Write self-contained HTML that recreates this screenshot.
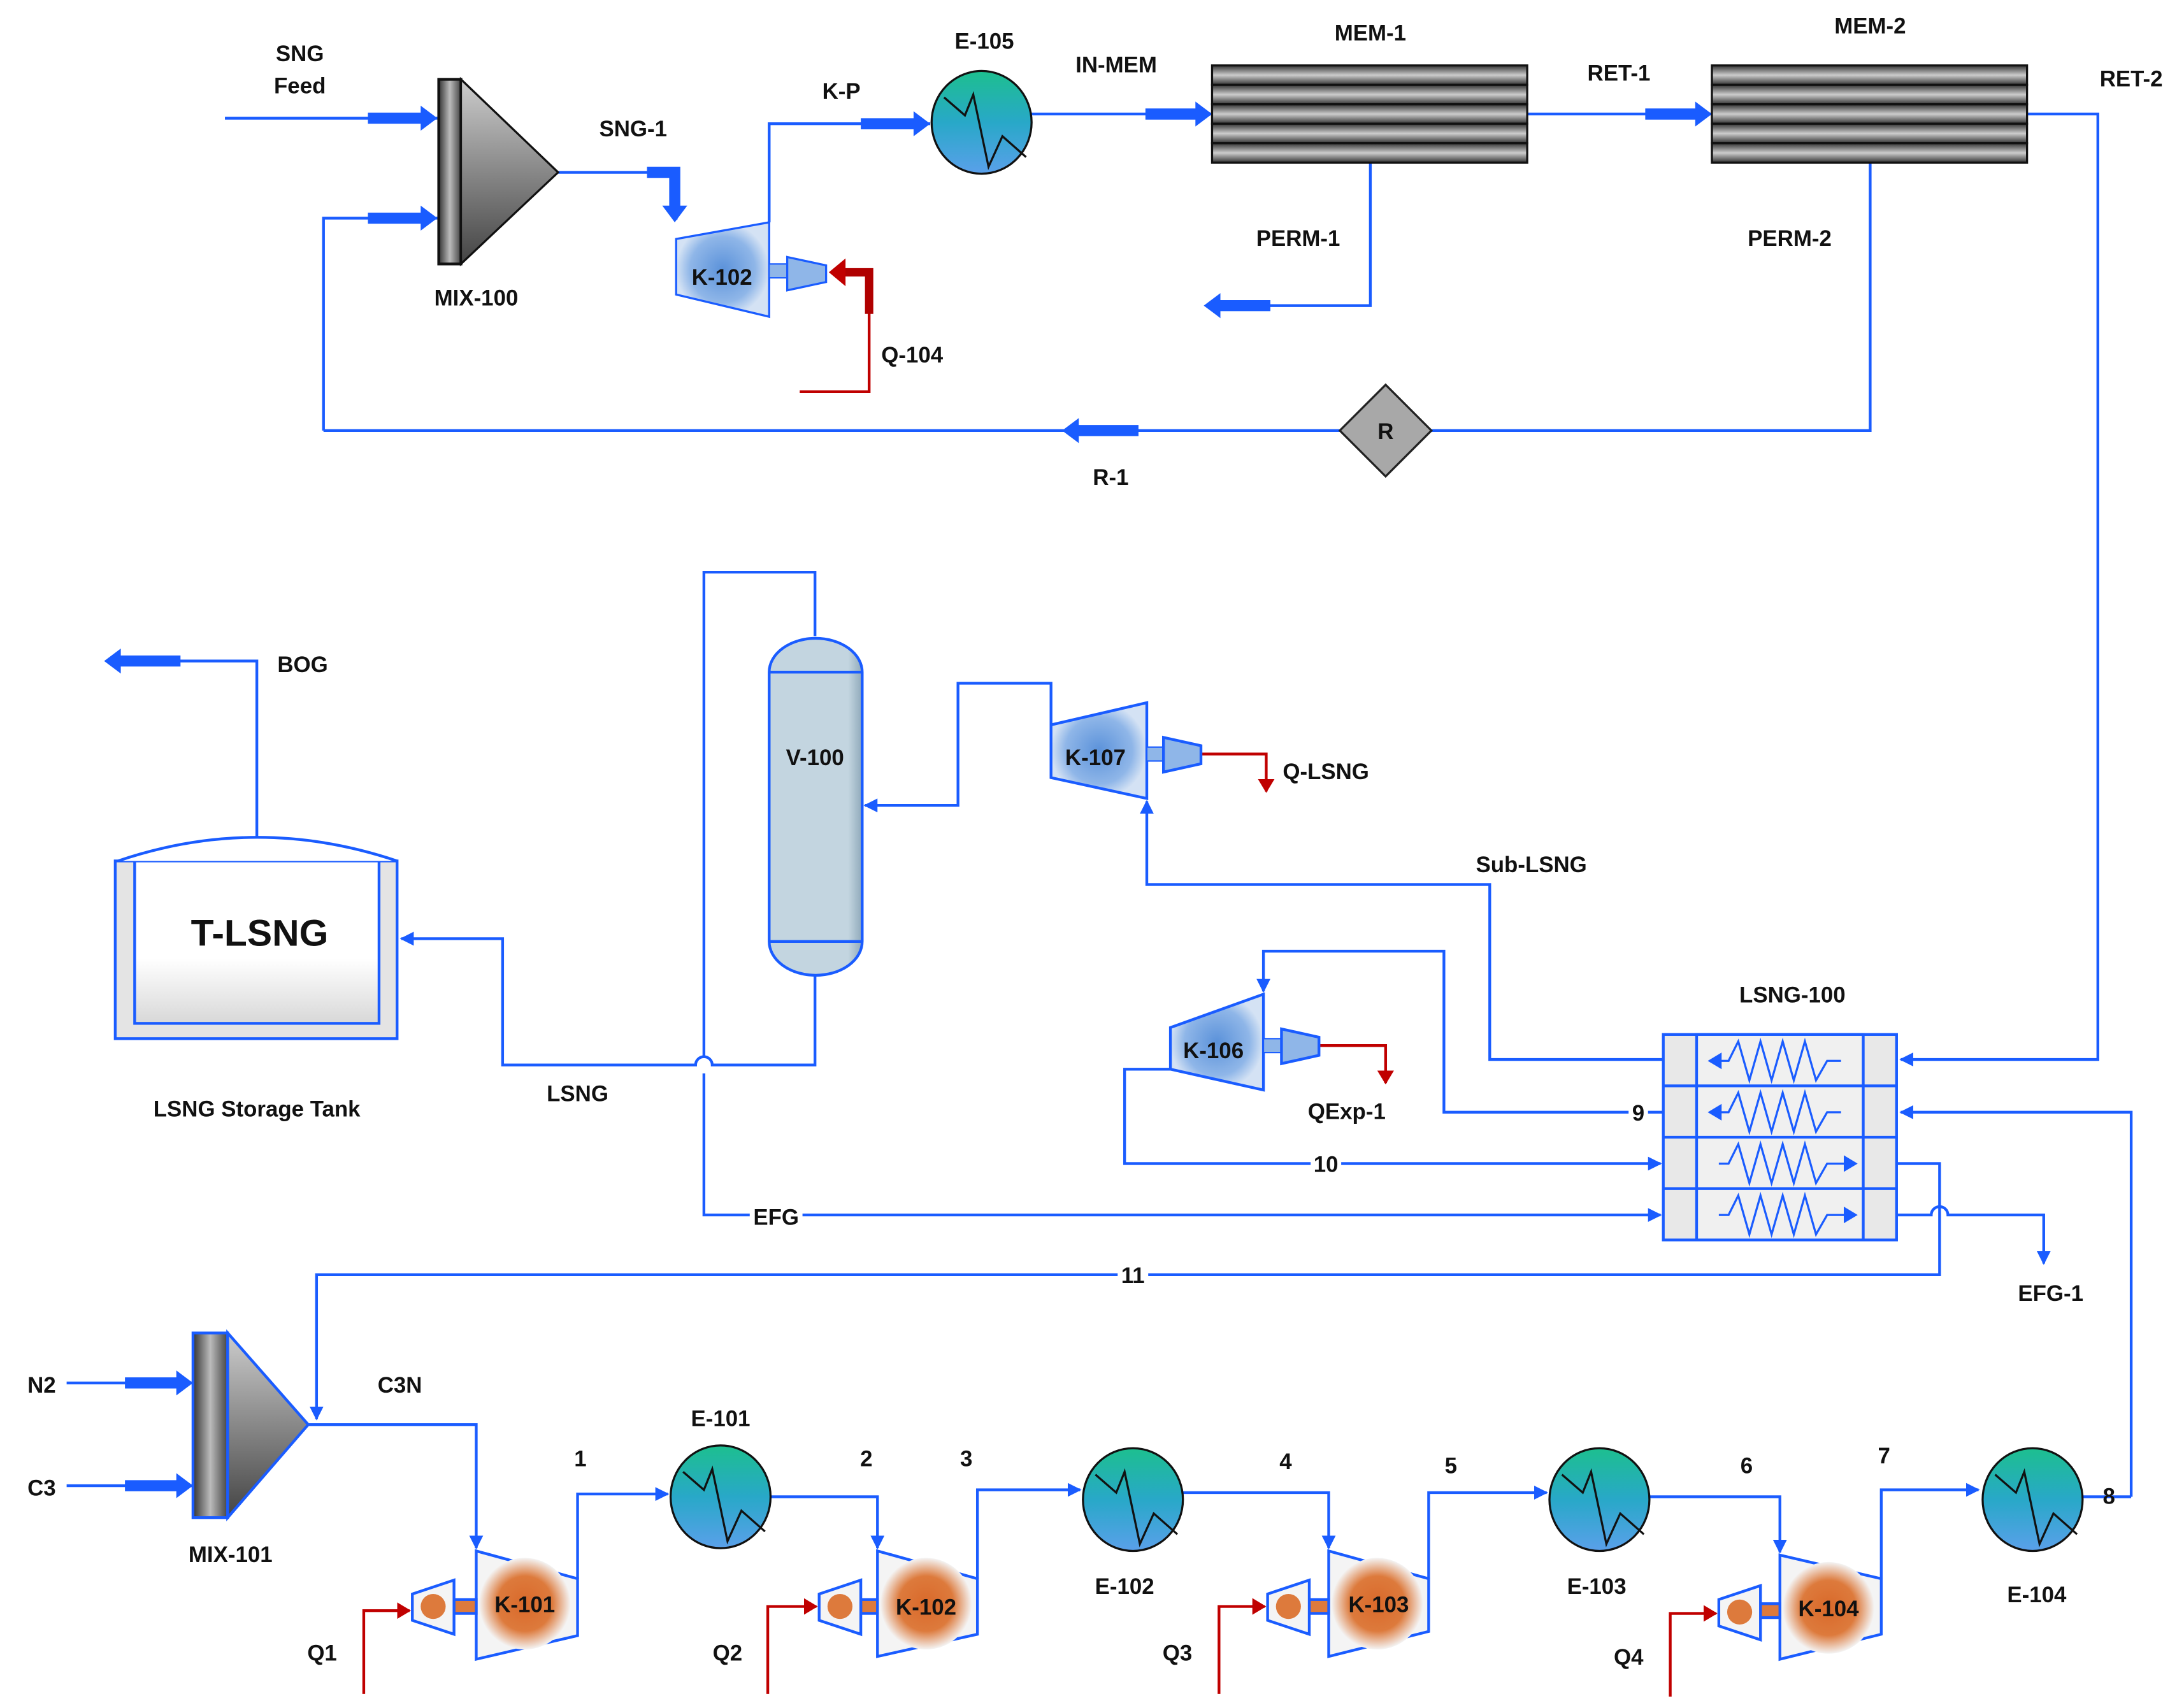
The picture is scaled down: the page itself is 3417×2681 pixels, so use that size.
<!DOCTYPE html>
<html><head><meta charset="utf-8">
<style>html,body{margin:0;padding:0;background:#fff}svg{display:block}
text{font-family:"Liberation Sans",Arial,sans-serif;font-weight:bold;fill:#111;font-size:16px;text-anchor:middle}</style></head>
<body>
<svg width="3417" height="2681" viewBox="0 0 1568 1230" xmlns="http://www.w3.org/2000/svg">
<defs>
<linearGradient id="mix" x1="0" y1="0" x2="1" y2="0"><stop offset="0" stop-color="#333"/><stop offset="0.5" stop-color="#bbb"/><stop offset="1" stop-color="#444"/></linearGradient>
<linearGradient id="tri" x1="0" y1="0" x2="0" y2="1"><stop offset="0" stop-color="#ccc"/><stop offset="1" stop-color="#444"/></linearGradient>
<linearGradient id="hx" x1="0" y1="0" x2="0" y2="1"><stop offset="0" stop-color="#1dbf8f"/><stop offset="0.5" stop-color="#28a8c8"/><stop offset="1" stop-color="#5aa0ea"/></linearGradient>
<radialGradient id="cmp"><stop offset="0" stop-color="#5b92da"/><stop offset="0.7" stop-color="#8fb6e8"/><stop offset="1" stop-color="#d4e2f4"/></radialGradient>
<radialGradient id="org"><stop offset="0" stop-color="#d9692a"/><stop offset="0.6" stop-color="#dd7a3c"/><stop offset="1" stop-color="#f4f4f4"/></radialGradient>
<linearGradient id="bar" x1="0" y1="0" x2="0" y2="1"><stop offset="0" stop-color="#333"/><stop offset="0.5" stop-color="#ccc"/><stop offset="1" stop-color="#333"/></linearGradient>
<linearGradient id="ves" x1="0" y1="0" x2="1" y2="0"><stop offset="0" stop-color="#c3d5e0"/><stop offset="0.85" stop-color="#c3d5e0"/><stop offset="1" stop-color="#8fa9ba"/></linearGradient>
<linearGradient id="tank" x1="0" y1="0" x2="0" y2="1"><stop offset="0" stop-color="#fff"/><stop offset="0.6" stop-color="#fff"/><stop offset="1" stop-color="#d8d8d8"/></linearGradient>
<marker id="a" markerWidth="10" markerHeight="10" refX="9" refY="5" orient="auto" markerUnits="userSpaceOnUse"><path d="M0,0 L10,5 L0,10 z" fill="#1a5cff"/></marker>
<marker id="r" markerWidth="10" markerHeight="12" refX="9" refY="6" orient="auto" markerUnits="userSpaceOnUse"><path d="M0,0 L10,6 L0,12 z" fill="#c00000"/></marker>
</defs>
<g fill="none" stroke="#1a5cff" stroke-width="2">
<path d="M162,85 H315"/>
<path d="M233,310 V157 H315"/>
<path d="M402,124 H487 V158"/>
<path d="M554,160 V89 H670"/>
<path d="M743,82 H873"/>
<path d="M1100,82 H1233"/>
<path d="M1460,82 H1511 V763 H1369" marker-end="url(#a)"/>
<path d="M987,117 V220 H870"/>
<path d="M1347,117 V310 H1015"/>
<path d="M981,310 H233"/>
<path d="M185,603 V476 H80"/>
<path d="M587,458 V412 H507 V761 M507,773 V875 H1196" marker-end="url(#a)"/>
<path d="M587,703 V767 H513 A6,6 0 0 0 501,767 H362 V676 H289" marker-end="url(#a)"/>
<path d="M757,522 V492 H690 V580 H623" marker-end="url(#a)"/>
<path d="M1198,763 H1073 V637 H826 V577" marker-end="url(#a)"/>
<path d="M1198,801 H1040 V685 H910 V714" marker-end="url(#a)"/>
<path d="M1535,1078 V801 H1369" marker-end="url(#a)"/>
<path d="M843,770 H810 V838 H1196" marker-end="url(#a)"/>
<path d="M1366,838 H1397 V918 H228 V1022" marker-end="url(#a)"/>
<path d="M1366,875 H1391 A6,6 0 0 1 1403,875 H1472 V910" marker-end="url(#a)"/>
<path d="M48,996 H139 M48,1070 H139"/>
<path d="M222,1026 H343 V1115" marker-end="url(#a)"/>
<path d="M416,1137 V1076 H481" marker-end="url(#a)"/>
<path d="M555,1078 H632 V1115" marker-end="url(#a)"/>
<path d="M704,1137 V1073 H778" marker-end="url(#a)"/>
<path d="M852,1075 H957 V1115" marker-end="url(#a)"/>
<path d="M1029,1137 V1075 H1114" marker-end="url(#a)"/>
<path d="M1188,1078 H1282 V1118" marker-end="url(#a)"/>
<path d="M1355,1137 V1073 H1425" marker-end="url(#a)"/>
<path d="M1500,1078 H1535"/>
</g>
<g fill="#1a5cff">
<path d="M265,81 H303 V76 L315,85 L303,94 V89 H265 z"/>
<path d="M265,153 H303 V148 L315,157 L303,166 V161 H265 z"/>
<path d="M620,85 H658 V80 L670,89 L658,98 V93 H620 z"/>
<path d="M825,78 H861 V73 L873,82 L861,91 V86 H825 z"/>
<path d="M1185,78 H1221 V73 L1233,82 L1221,91 V86 H1185 z"/>
<path d="M915,216 H879 V211 L867,220 L879,229 V224 H915 z"/>
<path d="M820,306 H777 V301 L765,310 L777,319 V314 H820 z"/>
<path d="M130,472 H87 V467 L75,476 L87,485 V480 H130 z"/>
<path d="M90,992 H127 V987 L139,996 L127,1005 V1000 H90 z"/>
<path d="M90,1066 H127 V1061 L139,1070 L127,1079 V1074 H90 z"/>
<path d="M466,120 H490 V148 H495 L486,160 L477,148 H482 V128 H466 z"/>
</g>
<g fill="none" stroke="#c00000" stroke-width="2">
<path d="M576,282 H626 V225"/>
<path d="M865,543 H912 V570" marker-end="url(#r)"/>
<path d="M950,753 H998 V780" marker-end="url(#r)"/>
<path d="M262,1220 V1160 H295" marker-end="url(#r)"/>
<path d="M553,1220 V1157 H588" marker-end="url(#r)"/>
<path d="M878,1220 V1157 H911" marker-end="url(#r)"/>
<path d="M1203,1222 V1162 H1236" marker-end="url(#r)"/>
</g>
<path d="M626,226 V196 H606" fill="none" stroke="#b00000" stroke-width="6"/>
<path d="M597,196 L609,186 V206 z" fill="#c00000"/>
<rect x="316" y="57" width="16" height="133" fill="url(#mix)" stroke="#111" stroke-width="2"/>
<path d="M332,57 L402,124 L332,190 z" fill="url(#tri)" stroke="#111" stroke-width="1.5"/>
<rect x="139" y="960" width="25" height="133" fill="url(#mix)" stroke="#1a5cff" stroke-width="2"/>
<path d="M164,960 L222,1026 L164,1093 z" fill="url(#tri)" stroke="#1a5cff" stroke-width="2"/>
<path d="M487,172 L554,160 V228 L487,212 z" fill="url(#cmp)" stroke="#1a5cff" stroke-width="1.5"/>
<rect x="554" y="190" width="13" height="10" fill="#8fb6e8" stroke="#1a5cff"/>
<path d="M567,185 L595,191 V203 L567,209 z" fill="#8fb6e8" stroke="#1a5cff" stroke-width="1.5"/>
<path d="M757,522 L826,506 V575 L757,560 z" fill="url(#cmp)" stroke="#1a5cff" stroke-width="2"/>
<rect x="826" y="538" width="12" height="10" fill="#8fb6e8" stroke="#1a5cff"/>
<path d="M838,531 L865,537 V550 L838,556 z" fill="#8fb6e8" stroke="#1a5cff" stroke-width="2"/>
<path d="M843,740 L910,716 V785 L843,770 z" fill="url(#cmp)" stroke="#1a5cff" stroke-width="2"/>
<rect x="910" y="748" width="13" height="10" fill="#8fb6e8" stroke="#1a5cff"/>
<path d="M923,741 L950,747 V760 L923,766 z" fill="#8fb6e8" stroke="#1a5cff" stroke-width="2"/>
<g stroke="#1a5cff" stroke-width="2">
<path d="M343,1117 L416,1137 V1178 L343,1195 z" fill="#f4f4f4"/>
<circle cx="378" cy="1155" r="33" fill="url(#org)" stroke="none"/>
<rect x="327" y="1152" width="16" height="10" fill="#dd7a3c"/>
<path d="M297,1148 L327,1138 V1177 L297,1167 z" fill="#f4f4f4"/>
<circle cx="312" cy="1157" r="9" fill="#dd7a3c" stroke="none"/>
<path d="M632,1117 L704,1137 V1177 L632,1193 z" fill="#f4f4f4"/>
<circle cx="667" cy="1155" r="33" fill="url(#org)" stroke="none"/>
<rect x="620" y="1152" width="12" height="10" fill="#dd7a3c"/>
<path d="M590,1148 L620,1138 V1177 L590,1167 z" fill="#f4f4f4"/>
<circle cx="605" cy="1157" r="9" fill="#dd7a3c" stroke="none"/>
<path d="M957,1117 L1029,1137 V1175 L957,1193 z" fill="#f4f4f4"/>
<circle cx="992" cy="1155" r="33" fill="url(#org)" stroke="none"/>
<rect x="943" y="1152" width="14" height="10" fill="#dd7a3c"/>
<path d="M913,1148 L943,1138 V1177 L913,1167 z" fill="#f4f4f4"/>
<circle cx="928" cy="1157" r="9" fill="#dd7a3c" stroke="none"/>
<path d="M1282,1120 L1355,1137 V1177 L1282,1195 z" fill="#f4f4f4"/>
<circle cx="1317" cy="1158" r="33" fill="url(#org)" stroke="none"/>
<rect x="1268" y="1155" width="14" height="10" fill="#dd7a3c"/>
<path d="M1238,1152 L1268,1142 V1181 L1238,1171 z" fill="#f4f4f4"/>
<circle cx="1253" cy="1161" r="9" fill="#dd7a3c" stroke="none"/>
</g>
<g stroke="#111" stroke-width="1.5">
<ellipse cx="707" cy="88" rx="36" ry="37" fill="url(#hx)"/>
<ellipse cx="519" cy="1078" rx="36" ry="37" fill="url(#hx)"/>
<ellipse cx="816" cy="1080" rx="36" ry="37" fill="url(#hx)"/>
<ellipse cx="1152" cy="1080" rx="36" ry="37" fill="url(#hx)"/>
<ellipse cx="1464" cy="1080" rx="36" ry="37" fill="url(#hx)"/>
</g>
<g fill="none" stroke="#111" stroke-width="1.5">
<path d="M680,70 L695,83 L701,68 L712,120 L722,98 L739,113"/>
<path d="M492,1060 L507,1073 L513,1058 L524,1110 L534,1088 L551,1103"/>
<path d="M789,1062 L804,1075 L810,1060 L821,1112 L831,1090 L848,1105"/>
<path d="M1125,1062 L1140,1075 L1146,1060 L1157,1112 L1167,1090 L1184,1105"/>
<path d="M1437,1062 L1452,1075 L1458,1060 L1469,1112 L1479,1090 L1496,1105"/>
</g>
<g stroke="#111" stroke-width="1.5">
<rect x="873" y="47" width="227" height="14" fill="url(#bar)"/>
<rect x="873" y="61" width="227" height="14" fill="url(#bar)"/>
<rect x="873" y="75" width="227" height="14" fill="url(#bar)"/>
<rect x="873" y="89" width="227" height="14" fill="url(#bar)"/>
<rect x="873" y="103" width="227" height="14" fill="url(#bar)"/>
<rect x="1233" y="47" width="227" height="14" fill="url(#bar)"/>
<rect x="1233" y="61" width="227" height="14" fill="url(#bar)"/>
<rect x="1233" y="75" width="227" height="14" fill="url(#bar)"/>
<rect x="1233" y="89" width="227" height="14" fill="url(#bar)"/>
<rect x="1233" y="103" width="227" height="14" fill="url(#bar)"/>
</g>
<path d="M998,277 L1031,310 L998,343 L965,310 z" fill="#a8a8a8" stroke="#222" stroke-width="1.5"/>
<path d="M554,484 A33,24 0 0 1 621,484 V678 A33,24 0 0 1 554,678 z" fill="url(#ves)" stroke="#1a5cff" stroke-width="2"/>
<path d="M554,484 H621 M554,678 H621" stroke="#1a5cff" stroke-width="2"/>
<rect x="83" y="620" width="203" height="128" fill="#e4e4e4" stroke="#1a5cff" stroke-width="2"/>
<rect x="97" y="620" width="176" height="117" fill="url(#tank)" stroke="#1a5cff" stroke-width="2"/>
<path d="M85,620 Q185,586 286,620" fill="#fff" stroke="#1a5cff" stroke-width="2"/>
<g stroke="#1a5cff" stroke-width="2">
<rect x="1198" y="745" width="168" height="148" fill="#e8e8e8"/>
<rect x="1222" y="745" width="120" height="148" fill="#f0f0f0"/>
<path d="M1198,782 H1366 M1198,819 H1366 M1198,856 H1366" fill="none"/>
</g>
<g fill="none" stroke="#1a5cff" stroke-width="1.5">
<path d="M1326,764 H1316 L1308,778 L1300,750 L1292,778 L1284,750 L1276,778 L1268,750 L1260,778 L1252,750 L1245,764 H1232"/>
<path d="M1326,801 H1316 L1308,815 L1300,787 L1292,815 L1284,787 L1276,815 L1268,787 L1260,815 L1252,787 L1245,801 H1232"/>
<path d="M1238,838 H1245 L1252,824 L1260,852 L1268,824 L1276,852 L1284,824 L1292,852 L1300,824 L1308,852 L1316,838 H1330"/>
<path d="M1238,875 H1245 L1252,861 L1260,889 L1268,861 L1276,889 L1284,861 L1292,889 L1300,861 L1308,889 L1316,875 H1330"/>
</g>
<g fill="#1a5cff">
<path d="M1230,764 L1240,758 V770 z"/><path d="M1230,801 L1240,795 V807 z"/>
<path d="M1338,838 L1328,832 V844 z"/><path d="M1338,875 L1328,869 V881 z"/>
</g>
<g fill="#fff">
<rect x="1173" y="792" width="14" height="18"/>
<rect x="944" y="829" width="22" height="18"/>
<rect x="805" y="909" width="22" height="18"/>
<rect x="540" y="867" width="38" height="18"/>
</g>
<text x="216" y="44">SNG</text><text x="216" y="67">Feed</text>
<text x="343" y="220">MIX-100</text>
<text x="456" y="98">SNG-1</text>
<text x="520" y="205">K-102</text>
<text x="606" y="71">K-P</text>
<text x="657" y="261">Q-104</text>
<text x="709" y="35">E-105</text>
<text x="804" y="52">IN-MEM</text>
<text x="987" y="29">MEM-1</text>
<text x="1166" y="58">RET-1</text>
<text x="1347" y="24">MEM-2</text>
<text x="1535" y="62">RET-2</text>
<text x="935" y="177">PERM-1</text>
<text x="1289" y="177">PERM-2</text>
<text x="998" y="316">R</text>
<text x="800" y="349">R-1</text>
<text x="218" y="484">BOG</text>
<text x="187" y="681" style="font-size:27px">T-LSNG</text>
<text x="185" y="804">LSNG Storage Tank</text>
<text x="587" y="551">V-100</text>
<text x="789" y="551">K-107</text>
<text x="955" y="561">Q-LSNG</text>
<text x="1103" y="628">Sub-LSNG</text>
<text x="1291" y="722">LSNG-100</text>
<text x="874" y="762">K-106</text>
<text x="970" y="806">QExp-1</text>
<text x="416" y="793">LSNG</text>
<text x="1180" y="807">9</text>
<text x="955" y="844">10</text>
<text x="559" y="882">EFG</text>
<text x="816" y="924">11</text>
<text x="1477" y="937">EFG-1</text>
<text x="30" y="1003">N2</text>
<text x="30" y="1077">C3</text>
<text x="288" y="1003">C3N</text>
<text x="166" y="1125">MIX-101</text>
<text x="418" y="1056">1</text>
<text x="519" y="1027">E-101</text>
<text x="624" y="1056">2</text>
<text x="696" y="1056">3</text>
<text x="810" y="1148">E-102</text>
<text x="926" y="1058">4</text>
<text x="1045" y="1061">5</text>
<text x="1150" y="1148">E-103</text>
<text x="1258" y="1061">6</text>
<text x="1357" y="1054">7</text>
<text x="1519" y="1083">8</text>
<text x="1467" y="1154">E-104</text>
<text x="378" y="1161">K-101</text>
<text x="667" y="1163">K-102</text>
<text x="993" y="1161">K-103</text>
<text x="1317" y="1164">K-104</text>
<text x="232" y="1196">Q1</text>
<text x="524" y="1196">Q2</text>
<text x="848" y="1196">Q3</text>
<text x="1173" y="1199">Q4</text>
</svg>
</body></html>
